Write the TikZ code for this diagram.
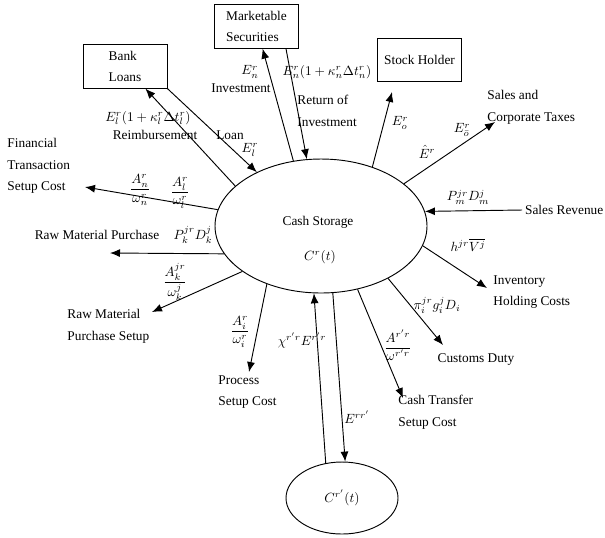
\documentclass[tikz,border=0pt]{standalone}
\usepackage{fontspec}
\setmainfont{Liberation Serif}
\usepackage{amsmath}
\usetikzlibrary{shapes}
\usetikzlibrary{arrows.meta}
\usetikzlibrary{calc}

\begin{document}
\begin{tikzpicture}[x=0.75pt,y=-0.75pt,line width=0.7pt]
			\tikzstyle{flow}=[-{Latex[length=7.5pt,width=6pt]}]
			\tikzstyle{store}=[ellipse,draw]
			\tikzstyle{party}=[rectangle,draw,align=left,minimum width=63pt,minimum height=32.5pt,font=\linespread{1.35}\selectfont]
			\tikzstyle{txt}=[inner sep=0pt,align=left,anchor=west,font=\linespread{1.35}\selectfont]
			\useasboundingbox (0,0) rectangle (605,537);

			\node[party] (bank) at (125,66.5) {Bank\\Loans};
			\node[party] (market) at (256.5,26.5) {Marketable\\Securities};
			\node[party] (stock) at (419.5,60) {Stock Holder};
			\node[store,minimum width=159pt,minimum height=100.5pt] (cash) at (321,226) {};
			\node[store,minimum width=84pt,minimum height=54pt] (cash2) at (342,498) {$C^{r'}(t)$};
			\node (cashname) at (318,222) {Cash Storage};
			\node (cashval) at (320,257) {$C^r(t)$};

			\node[txt] (fintxt) at (7,166) {Financial\\Transaction\\Setup Cost};
			\node (rawtxt) at (97,235) {Raw Material Purchase};
			\node[txt] (setuptxt) at (67,326) {Raw Material\\Purchase Setup};
			\node[txt] (proctxt) at (218,392) {Process\\Setup Cost};
			\node[txt] (transtxt) at (398,412) {Cash Transfer\\Setup Cost};
			\node (dutytxt) at (476,360) {Customs Duty};
			\node[txt] (invtxt) at (493,292) {Inventory\\Holding Costs};
			\node[txt,inner sep=2pt] (rev) at (522,210) {Sales Revenue};
			\node[txt] (taxtxt) at (487,107.5) {Sales and\\Corporate Taxes};

			\coordinate (stockin) at (392,92);
			\coordinate (taxin) at (495,122);
			\coordinate (invout) at (487,288);
			\coordinate (dutyout) at (443,345);
			\coordinate (transout) at (403,398);
			\coordinate (procout) at (249,372);
			\coordinate (setupout) at (152,312);
			\coordinate (rawout) at (110,253);
			\coordinate (finout) at (85,187);

			\draw[flow] (cash.155) -- (bank);
			\draw[flow] (bank.south east) -- (cash.140);
			\draw[flow] (cash.113) -- (market);
			\draw[flow] ($(market.south east)+(-13,0)$) -- (cash.102);
			\draw[flow] (cash.49) -- (stockin);
			\draw[flow] (cash.27) -- (taxin);
			\draw[flow] (rev.west) -- (cash.8);
			\draw[flow] (cash.-11) -- (invout);
			\draw[flow] (cash.-38) -- (dutyout);
			\draw[flow] (cash.-60) -- (transout);
			\draw[flow] (cash.-80) -- (cash2.85);
			\draw[flow] (cash2.115) -- (cash.-96);
			\draw[flow] (cash.-133) -- (procout);
			\draw[flow] (cash.-150) -- (setupout);
			\draw[flow] (cash.-164) -- (rawout);
			\draw[flow] (cash.171) -- (finout);

			\node (reimbval) at (148,118) {$E_l^r(1+\kappa_l^r\Delta t_l^r)$};
			\node (reimb) at (155,135) {Reimbursement};
			\node (loan) at (230,135) {Loan};
			\node (loanval) at (250,150) {$E_l^r$};
			\node (investval) at (250,72) {$E_n^r$};
			\node (invest) at (241,88) {Investment};
			\node (retval) at (327,72) {$E_n^r(1+\kappa_n^r\Delta t_n^r)$};
			\node[txt] (ret) at (297,111) {Return of\\Investment};
			\node (stockval) at (400,123) {$E_o^r$};
			\node (hatval) at (427,152) {$\hat{E}^r$};
			\node (taxval) at (462,130) {$E_{\bar{o}}^r$};
			\node (revval) at (468,197) {$P_m^{jr}D_m^j$};
			\node (invval) at (468,245) {$h^{jr}\overline{V^j}$};
			\node (dutyval) at (437,305) {$\pi_i^{jr}g_i^jD_i$};
			\node (transval) at (398,345) {$\dfrac{A^{r'r}}{\omega^{r'r}}$};
			\node (downval) at (357,417) {$E^{rr'}$};
			\node (upval) at (302,340) {$\chi^{r'r}E^{r'r}$};
			\node (procval) at (240,332) {$\dfrac{A_i^r}{\omega_i^r}$};
			\node (setupval) at (175,282) {$\dfrac{A_k^{jr}}{\omega_k^j}$};
			\node (rawval) at (193,235) {$P_k^{jr}D_k^j$};
			\node (finvaln) at (140,190) {$\dfrac{A_n^r}{\omega_n^r}$};
			\node (finvall) at (180,193) {$\dfrac{A_l^r}{\omega_l^r}$};
\end{tikzpicture}
\end{document}
